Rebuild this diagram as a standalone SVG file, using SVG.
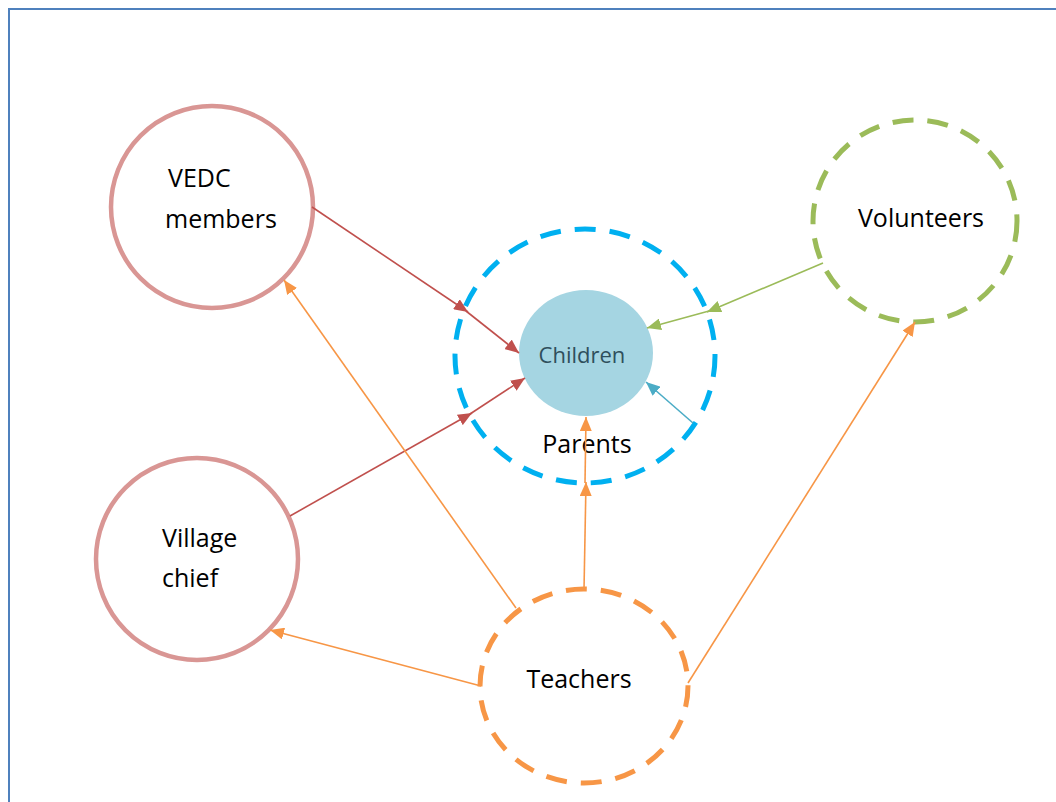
<svg xmlns="http://www.w3.org/2000/svg" width="1056" height="802" viewBox="0 0 1056 802">
  <style>
    .lbl { font-family: "Open Sans", "Noto Sans", "Liberation Sans", sans-serif; font-size: 25px; fill: #000; }
    .solid { fill: #fff; stroke: #d99694; stroke-width: 4.5; }
    .dash { fill: none; stroke-width: 5; stroke-dasharray: 21 14; }
    .red { stroke: #c0504d; stroke-width: 1.6; fill: none; }
    .grn { stroke: #9bbb59; stroke-width: 1.6; fill: none; }
    .org { stroke: #f79646; stroke-width: 1.6; fill: none; }
    .teal { stroke: #4bacc6; stroke-width: 1.6; fill: none; }
  </style>
  <defs>
    <marker id="aRed" viewBox="0 0 14 12" refX="14" refY="6" markerWidth="14" markerHeight="12" markerUnits="userSpaceOnUse" orient="auto"><path d="M0,0 L14,6 L0,12 Z" fill="#c0504d"/></marker>
    <marker id="aGrn" viewBox="0 0 14 12" refX="14" refY="6" markerWidth="14" markerHeight="12" markerUnits="userSpaceOnUse" orient="auto"><path d="M0,0 L14,6 L0,12 Z" fill="#9bbb59"/></marker>
    <marker id="aOrg" viewBox="0 0 14 12" refX="14" refY="6" markerWidth="14" markerHeight="12" markerUnits="userSpaceOnUse" orient="auto"><path d="M0,0 L14,6 L0,12 Z" fill="#f79646"/></marker>
    <marker id="aTeal" viewBox="0 0 14 12" refX="14" refY="6" markerWidth="14" markerHeight="12" markerUnits="userSpaceOnUse" orient="auto"><path d="M0,0 L14,6 L0,12 Z" fill="#4bacc6"/></marker>
  </defs>

  <rect width="1056" height="802" fill="#fff"/>
  <path d="M9,802 L9,9 L1056,9" fill="none" stroke="#4f81bd" stroke-width="2"/>

  <g id="parents">
    <ellipse cx="585" cy="356" rx="130" ry="127" class="dash" stroke="#00b0f0"/>
    <text class="lbl" x="587" y="453" text-anchor="middle">Parents</text>
  </g>

  <g id="children">
    <ellipse cx="586" cy="353" rx="67" ry="63" fill="#a5d5e2"/>
    <text x="582" y="363" text-anchor="middle" font-family="'Open Sans', 'Noto Sans', sans-serif" font-size="22" fill="#2f4f5c">Children</text>
  </g>

  <g id="vedc">
    <circle cx="212" cy="207" r="101" class="solid"/>
    <text class="lbl" x="168" y="187">VEDC</text>
    <text class="lbl" x="165" y="228">members</text>
  </g>

  <g id="village-chief">
    <circle cx="197" cy="559" r="101" class="solid"/>
    <text class="lbl" x="162" y="547">Village</text>
    <text class="lbl" x="162" y="587">chief</text>
  </g>

  <g id="volunteers">
    <ellipse cx="915" cy="221" rx="102" ry="101" fill="#fff" class="dash" stroke="#9bbb59"/>
    <text class="lbl" x="921" y="227" text-anchor="middle">Volunteers</text>
  </g>

  <g id="teachers">
    <ellipse cx="584" cy="686" rx="104" ry="97" class="dash" stroke="#f79646"/>
    <text class="lbl" x="579" y="688" text-anchor="middle">Teachers</text>
  </g>

  <g id="connectors">
    <line class="red" x1="312" y1="207" x2="468" y2="312" marker-end="url(#aRed)"/>
    <line class="red" x1="466" y1="311" x2="519" y2="353" marker-end="url(#aRed)"/>
    <line class="red" x1="290" y1="516" x2="472" y2="413" marker-end="url(#aRed)"/>
    <line class="red" x1="470" y1="414" x2="525" y2="378" marker-end="url(#aRed)"/>
    <line class="grn" x1="823" y1="263" x2="707" y2="312" marker-end="url(#aGrn)"/>
    <line class="grn" x1="709" y1="311" x2="647" y2="328" marker-end="url(#aGrn)"/>
    <line class="teal" x1="693" y1="423" x2="646" y2="382" marker-end="url(#aTeal)"/>
    <line class="org" x1="584" y1="590" x2="586" y2="482" marker-end="url(#aOrg)"/>
    <line class="org" x1="585" y1="483" x2="586" y2="417" marker-end="url(#aOrg)"/>
    <line class="org" x1="516" y1="608" x2="284" y2="280" marker-end="url(#aOrg)"/>
    <line class="org" x1="481" y1="686" x2="270" y2="630" marker-end="url(#aOrg)"/>
    <line class="org" x1="688" y1="683" x2="915" y2="322" marker-end="url(#aOrg)"/>
  </g>
</svg>
